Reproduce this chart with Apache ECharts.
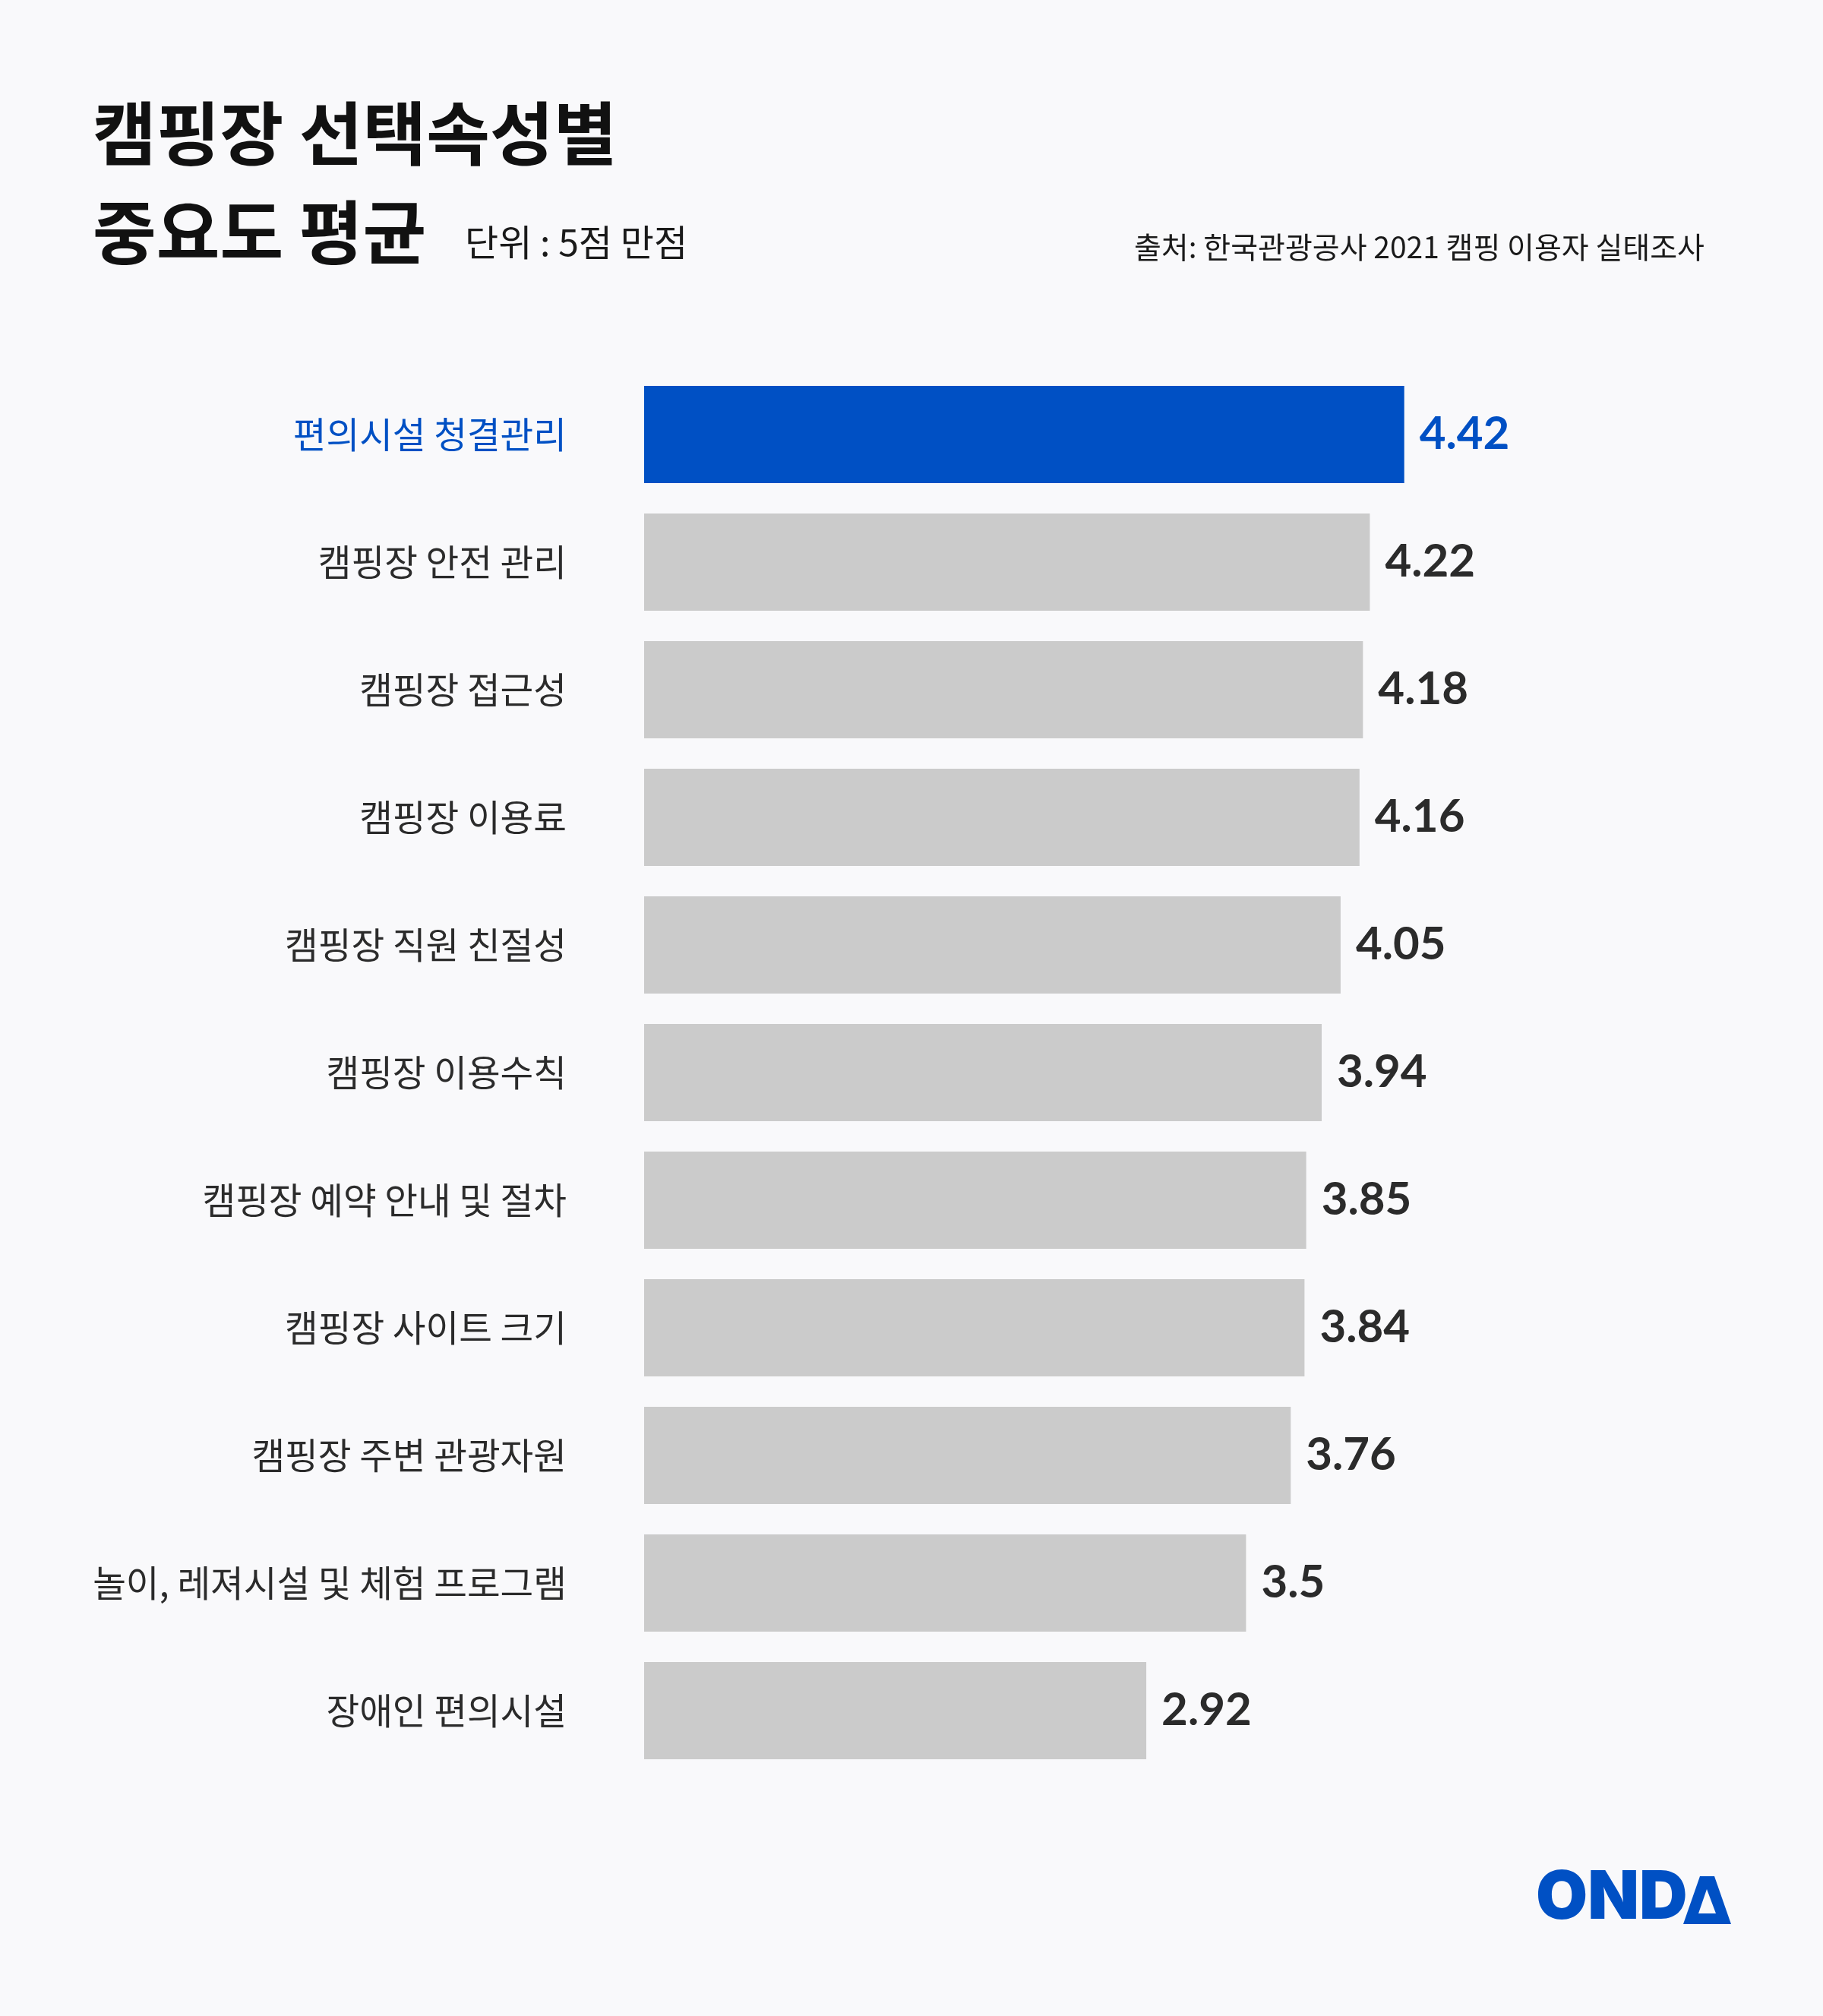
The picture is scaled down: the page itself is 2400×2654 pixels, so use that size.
<!DOCTYPE html>
<html>
<head>
    <meta charset="utf-8">
    <title>캠핑장 선택속성별 중요도 평균</title>
    <script src="https://cdn.jsdelivr.net/npm/echarts@6/dist/echarts.min.js"></script>
    <style type="text/css">
        *{margin:0;padding:0;}
        body{background:#f9f9fb;overflow:hidden;}
        #main{width:2400px;height:2654px;}
    </style>
</head>
<body>
<div id="main"></div>
<script type="text/javascript">
    // 항목 / 평균 점수 (5점 만점)
    var categories = ['편의시설 청결관리','캠핑장 안전 관리','캠핑장 접근성','캠핑장 이용료','캠핑장 직원 친절성',
        '캠핑장 이용수칙','캠핑장 예약 안내 및 절차','캠핑장 사이트 크기','캠핑장 주변 관광자원',
        '놀이, 레져시설 및 체험 프로그램','장애인 편의시설'];
    var values = [4.42, 4.22, 4.18, 4.16, 4.05, 3.94, 3.85, 3.84, 3.76, 3.5, 2.92];
    var highlight = 0;

    var BLUE = '#0050c4';
    var GRAY = '#cbcbcb';
    var TEXT = '#2b2b2b';
    var BG = '#f9f9fb';

    var barData = [];
    for (var i = 0; i < values.length; i++) {
        var hl = (i == highlight);
        barData.push({
            value: values[i],
            itemStyle: {color: hl ? BLUE : GRAY},
            label: {color: hl ? BLUE : TEXT}
        });
    }

    var myChart = echarts.init(document.getElementById('main'));
    var option = {
        backgroundColor: BG,
        animation: false,
        grid: {
            left: 848,
            right: 420,
            top: 488,
            height: 1848
        },
        xAxis: {
            type: 'value',
            min: 0,
            max: 5,
            show: false
        },
        yAxis: {
            type: 'category',
            inverse: true,
            data: categories,
            axisLine: {show: false},
            axisTick: {show: false},
            axisLabel: {
                margin: 102,
                fontSize: 47.5,
                fontFamily: 'Noto Sans CJK KR',
                color: function (value, index) {
                    return index == highlight ? BLUE : TEXT;
                }
            }
        },
        series: [
            {
                type: 'bar',
                barWidth: 128,
                data: barData,
                label: {
                    show: true,
                    position: 'right',
                    distance: 20,
                    fontSize: 60,
                    fontWeight: 'bold',
                    fontFamily: 'Lato',
                    formatter: function (p) { return p.value; }
                }
            }
        ],
        graphic: [
            {
                type: 'text', left: 122, top: 130,
                style: {text: '캠핑장 선택속성별', font: 'bold 91px "Noto Sans CJK KR"', fill: '#111111'}
            },
            {
                type: 'text', left: 122, top: 260,
                style: {text: '중요도 평균', font: 'bold 91px "Noto Sans CJK KR"', fill: '#111111'}
            },
            {
                type: 'text', left: 612, top: 295,
                style: {text: '단위 : 5점 만점', font: '48px "Noto Sans CJK KR"', fill: '#1a1a1a'}
            },
            {
                type: 'text', right: 156, top: 306,
                style: {text: '출처: 한국관광공사 2021 캠핑 이용자 실태조사', font: '39px "Noto Sans CJK KR"', fill: '#1a1a1a'}
            },
            // 로고
            {
                type: 'text', left: 2022, top: 2456,
                style: {text: 'OND', font: '900 88px Inter', fill: BLUE}
            },
            {
                type: 'polygon',
                shape: {points: [[2216, 2533], [2238, 2470], [2257, 2470], [2279, 2533]]},
                style: {fill: BLUE}
            },
            {
                type: 'polygon',
                shape: {points: [[2236, 2519], [2247, 2487], [2259, 2519]]},
                style: {fill: BG}
            }
        ]
    };
    myChart.setOption(option);
</script>
</body>
</html>
